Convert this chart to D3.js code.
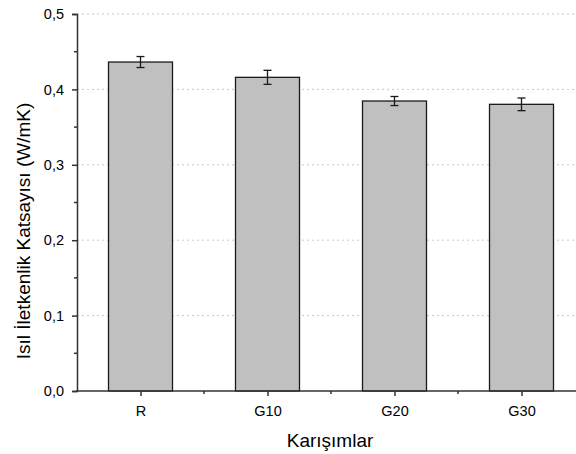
<!DOCTYPE html>
<html>
<head>
<meta charset="utf-8">
<script src="https://cdn.jsdelivr.net/npm/d3@7"></script>
<style>
body{margin:0;background:#fff;}
text{font-family:Arial,"Liberation Sans",sans-serif;fill:#000;}
</style>
</head>
<body>
<svg width="576" height="454"></svg>
<script>
const categories=['R','G10','G20','G30'];
const values=[0.4363,0.4160,0.3846,0.3802];
const errors=[0.0073,0.0093,0.0060,0.0084];
const yTicks=[0,0.1,0.2,0.3,0.4,0.5];
const yMinor=[0.05,0.15,0.25,0.35,0.45];
const xMinor=[1.5,2.5,3.5];

const svg=d3.select('svg');

const x=d3.scaleLinear().domain([0.5,4.5]).range([77,585]);
const y=d3.scaleLinear().domain([0,0.5]).range([391,14]);
const fmt=d=>d3.format('.1f')(d).replace('.',',');

// grid
svg.append('g').selectAll('line').data(yTicks.slice(1)).join('line')
  .attr('x1',77).attr('x2',576)
  .attr('y1',d=>y(d)).attr('y2',d=>y(d))
  .attr('stroke','#c8c8c8').attr('stroke-width',1)
  .attr('stroke-dasharray','2,3');

// bars
const bw=64;
svg.append('g').selectAll('rect').data(values).join('rect')
  .attr('x',(d,i)=>x(i+1)-bw/2)
  .attr('y',d=>y(d))
  .attr('width',bw)
  .attr('height',d=>y(0)-y(d))
  .attr('fill','#c0c0c0')
  .attr('stroke','#1a1a1a')
  .attr('stroke-width',1.3);

// error bars
const eg=svg.append('g').attr('stroke','#1a1a1a').attr('stroke-width',1.3);
values.forEach((v,i)=>{
  const cx=x(i+1);
  eg.append('line').attr('x1',cx).attr('x2',cx).attr('y1',y(v+errors[i])).attr('y2',y(v-errors[i]));
  eg.append('line').attr('x1',cx-4).attr('x2',cx+4).attr('y1',y(v+errors[i])).attr('y2',y(v+errors[i]));
  eg.append('line').attr('x1',cx-4).attr('x2',cx+4).attr('y1',y(v-errors[i])).attr('y2',y(v-errors[i]));
});

// y axis
const yAxis=d3.axisLeft(y).tickValues(yTicks).tickFormat(fmt).tickSize(5).tickPadding(8);
const gy=svg.append('g').attr('transform','translate(77,0)').call(yAxis);
gy.attr('font-family',null).attr('font-size',null);
gy.select('.domain').attr('stroke','#333').attr('stroke-width',1.5);
gy.selectAll('.tick line').attr('stroke','#333').attr('stroke-width',1.5);
gy.selectAll('text').style('font-size','14.5px');
svg.append('g').selectAll('line').data(yMinor).join('line')
  .attr('x1',74).attr('x2',77).attr('y1',d=>y(d)).attr('y2',d=>y(d))
  .attr('stroke','#333').attr('stroke-width',1.5);

// x axis
const xAxis=d3.axisBottom(x).tickValues([1,2,3,4]).tickFormat((d,i)=>categories[i]).tickSize(5).tickPadding(10);
const gx=svg.append('g').attr('transform','translate(0,391)').call(xAxis);
gx.attr('font-family',null).attr('font-size',null);
gx.select('.domain').attr('stroke','#333').attr('stroke-width',1.5).attr('d','M76,0H576');
gx.selectAll('.tick line').attr('stroke','#333').attr('stroke-width',1.5);
gx.selectAll('text').style('font-size','14.5px');
svg.append('g').selectAll('line').data(xMinor).join('line')
  .attr('x1',d=>x(d)).attr('x2',d=>x(d)).attr('y1',391).attr('y2',394)
  .attr('stroke','#333').attr('stroke-width',1.5);

// labels
svg.append('text').attr('x',330).attr('y',447).attr('text-anchor','middle')
  .style('font-size','19px').text('Karışımlar');
svg.append('text').attr('transform','translate(30,231) rotate(-90)')
  .attr('text-anchor','middle').style('font-size','19px')
  .text('Isıl İletkenlik Katsayısı (W/mK)');
</script>
</body>
</html>
